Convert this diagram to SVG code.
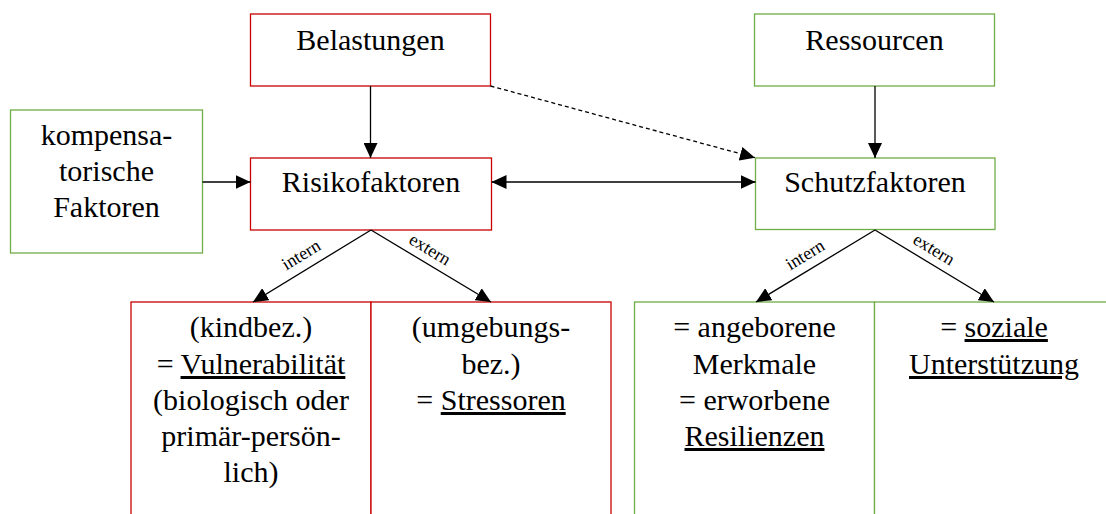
<svg xmlns="http://www.w3.org/2000/svg" width="1106" height="514" viewBox="0 0 1106 514">
<style>
.red{fill:#fff;stroke:#c80000;stroke-width:1.3}
.grn{fill:#fff;stroke:#70ad47;stroke-width:1.3}
.t{font-family:'Liberation Serif',Tinos,'Times New Roman',Times,'DejaVu Serif','Noto Serif',serif;font-size:30px;fill:#000;text-anchor:middle}
.lbl{font-family:'Liberation Serif',Tinos,'Times New Roman',Times,'DejaVu Serif','Noto Serif',serif;font-size:18px;fill:#000;text-anchor:middle}
.u{text-decoration:underline}
.c{stroke:#000;stroke-width:1.3;fill:none}
</style>
<defs>
<marker id="ah" markerUnits="userSpaceOnUse" markerWidth="15" markerHeight="14" refX="15" refY="7" orient="auto-start-reverse" viewBox="0 0 15 14">
<path d="M0,0 L15,7 L0,14 z" fill="#000"/>
</marker>
</defs>
<rect width="1106" height="514" fill="#fff"/>
<g id="belastungen">
<rect class="red" x="250.5" y="14" width="240" height="72"/>
<text class="t" x="370.5" y="50">Belastungen</text>
</g>
<g id="ressourcen">
<rect class="grn" x="754.5" y="14" width="240" height="72"/>
<text class="t" x="874.5" y="50">Ressourcen</text>
</g>
<g id="kompensatorisch">
<rect class="grn" x="10.5" y="110" width="192" height="143"/>
<text class="t" x="106.5" y="145">kompensa-</text>
<text class="t" x="106.5" y="181">torische</text>
<text class="t" x="106.5" y="217">Faktoren</text>
</g>
<g id="risikofaktoren">
<rect class="red" x="250.5" y="158" width="241" height="72"/>
<text class="t" x="371" y="192">Risikofaktoren</text>
</g>
<g id="schutzfaktoren">
<rect class="grn" x="755.5" y="158" width="239.5" height="71.5"/>
<text class="t" x="875" y="192">Schutzfaktoren</text>
</g>
<g id="vulnerabilitaet">
<rect class="red" x="131" y="302" width="240" height="230"/>
<text class="t" x="251" y="337">(kindbez.)</text>
<text class="t" x="251" y="374">= <tspan class="u">Vulnerabilität</tspan></text>
<text class="t" x="251" y="410">(biologisch oder</text>
<text class="t" x="251" y="446">primär-persön-</text>
<text class="t" x="251" y="482">lich)</text>
</g>
<g id="stressoren">
<rect class="red" x="371" y="302" width="240" height="230"/>
<text class="t" x="491" y="337">(umgebungs-</text>
<text class="t" x="491" y="374">bez.)</text>
<text class="t" x="491" y="410">= <tspan class="u">Stressoren</tspan></text>
</g>
<g id="resilienzen">
<rect class="grn" x="634.5" y="302" width="240" height="230"/>
<text class="t" x="754.5" y="337">= angeborene</text>
<text class="t" x="754.5" y="374">Merkmale</text>
<text class="t" x="754.5" y="410">= erworbene</text>
<text class="t" x="754.5" y="446"><tspan class="u">Resilienzen</tspan></text>
</g>
<g id="unterstuetzung">
<rect class="grn" x="874.5" y="302" width="240" height="230"/>
<text class="t" x="994" y="337">= <tspan class="u">soziale</tspan></text>
<text class="t" x="994" y="374"><tspan class="u">Unterstützung</tspan></text>
</g>
<g id="connectors">
<line class="c" x1="370.5" y1="86" x2="370.5" y2="158" marker-end="url(#ah)"/>
<line class="c" x1="875" y1="86" x2="875" y2="158" marker-end="url(#ah)"/>
<line class="c" x1="202.5" y1="182" x2="250.5" y2="182" marker-end="url(#ah)"/>
<line class="c" x1="491.5" y1="182" x2="755.5" y2="182" marker-start="url(#ah)" marker-end="url(#ah)"/>
<line class="c" x1="490.5" y1="86" x2="755" y2="157.7" stroke-dasharray="4 3" marker-end="url(#ah)"/>
<line class="c" x1="371" y1="230" x2="253" y2="302" marker-end="url(#ah)"/>
<line class="c" x1="371" y1="230" x2="491" y2="302" marker-end="url(#ah)"/>
<line class="c" x1="875" y1="230" x2="756" y2="302" marker-end="url(#ah)"/>
<line class="c" x1="875" y1="230" x2="994" y2="302" marker-end="url(#ah)"/>
<text class="lbl" transform="translate(301.5,255.5) rotate(-31.2)" y="5">intern</text>
<text class="lbl" transform="translate(429.5,250) rotate(31.2)" y="5">extern</text>
<text class="lbl" transform="translate(805.5,255.5) rotate(-31.2)" y="5">intern</text>
<text class="lbl" transform="translate(933.5,250) rotate(31.2)" y="5">extern</text>
</g>
</svg>
